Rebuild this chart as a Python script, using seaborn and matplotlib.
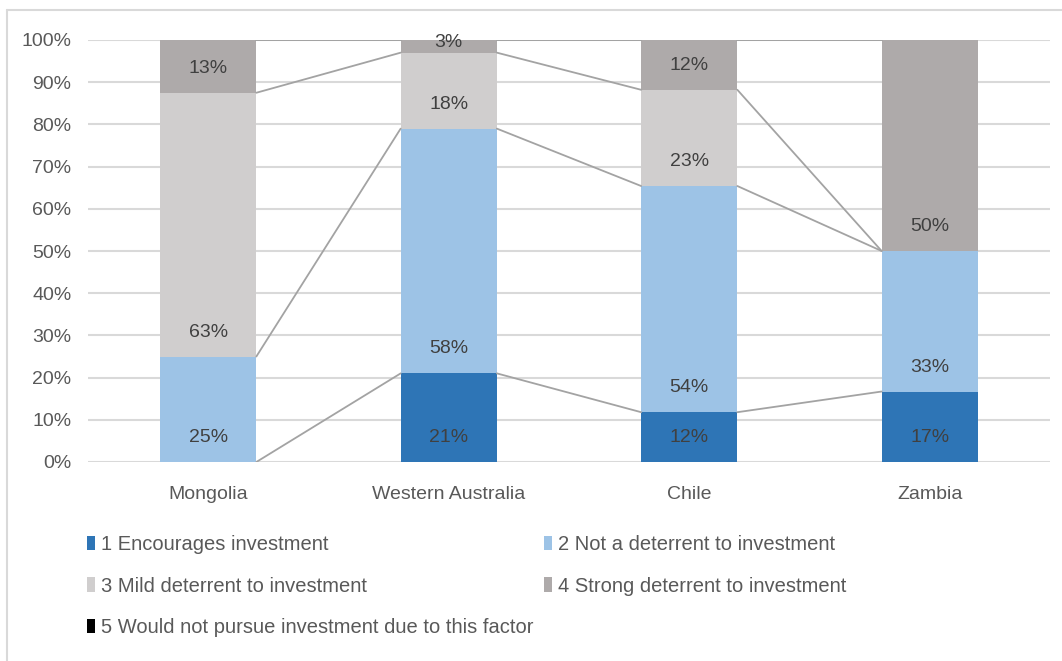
import numpy as np
import matplotlib
matplotlib.use("Agg")
import matplotlib.pyplot as plt
from matplotlib.patches import Patch
from matplotlib.lines import Line2D
import seaborn as sns

# share of responses (%) per jurisdiction
categories = ["Mongolia", "Western Australia", "Chile", "Zambia"]
encourages = [0, 21, 11.8, 16.7]
not_deterrent = [25, 58, 53.6, 33.3]
mild_deterrent = [62.5, 18, 22.8, 0]
strong_deterrent = [12.5, 3, 11.8, 50]
would_not_pursue = [0, 0, 0, 0]

series_names = ["1 Encourages investment",
                "2 Not a deterrent to investment",
                "3 Mild deterrent to investment",
                "4 Strong deterrent to investment",
                "5 Would not pursue investment due to this factor"]
series_colors = ["#2E75B6", "#9DC3E6", "#D0CECE", "#AEAAAA", "#000000"]

sns.set_style("white")
plt.rcParams["font.family"] = ["Liberation Sans", "DejaVu Sans"]

values = np.array([encourages, not_deterrent, mild_deterrent,
                   strong_deterrent, would_not_pursue])
tops = values.cumsum(axis=0)
bases = tops - values

fig = plt.figure(figsize=(10.62, 6.61), dpi=100)
ax = fig.add_axes([88 / 1062, 1 - 462 / 661, 962 / 1062, 422 / 661])

# stacked bars: draw cumulative totals from the top series down
for k in range(3, -1, -1):
    sns.barplot(x=categories, y=tops[k], color=series_colors[k], saturation=1,
                width=0.4, linewidth=0, errorbar=None, ax=ax, zorder=2)

# series lines joining segment tops between neighbouring bars
half = 0.2
for k in range(5):
    for i in range(len(categories) - 1):
        ax.plot([i + half, i + 1 - half], [tops[k][i], tops[k][i + 1]],
                color="#A3A3A3", lw=1.3, zorder=3)

# data labels near the base of each segment
for k in range(4):
    for i in range(len(categories)):
        v = values[k][i]
        if v > 0:
            y = bases[k][i] + min(5.8, v - 0.6)
            ax.text(i, y, f"{int(v + 0.5)}%", ha="center", va="center",
                    fontsize=14, color="#404040", zorder=4)

ax.set_xlim(-0.5, 3.5)
ax.set_ylim(0, 100)
ax.set_yticks(range(0, 101, 10))
ax.set_yticklabels([f"{t}%" for t in range(0, 101, 10)])
ax.set_xlabel("")
ax.set_ylabel("")
ax.yaxis.grid(True, color="#D9D9D9", lw=1.5)
ax.set_axisbelow(True)
for s in ax.spines.values():
    s.set_visible(False)
ax.tick_params(axis="both", length=0, labelsize=14, colors="#595959")
ax.tick_params(axis="y", pad=12)
ax.tick_params(axis="x", pad=17)

# legend laid out row by row in two columns
handles = [Patch(facecolor=c, edgecolor="none") for c in series_colors]
leg_kw = dict(loc="upper left", frameon=False, fontsize=14.5, handlelength=0.4,
              handleheight=0.7, handletextpad=0.3, labelspacing=1.12,
              borderpad=0, borderaxespad=0, labelcolor="#595959")
leg1 = fig.legend([handles[0], handles[2], handles[4]],
                  [series_names[0], series_names[2], series_names[4]],
                  bbox_to_anchor=(87 / 1062, 1 - 535 / 661), **leg_kw)
leg2 = fig.legend([handles[1], handles[3]],
                  [series_names[1], series_names[3]],
                  bbox_to_anchor=(544 / 1062, 1 - 535 / 661), **leg_kw)

# chart frame (top and left edges visible)
fig.add_artist(Line2D([7 / 1062, 1], [1 - 10 / 661] * 2,
                      transform=fig.transFigure, color="#D9D9D9", lw=1.5))
fig.add_artist(Line2D([7 / 1062] * 2, [0, 1 - 10 / 661],
                      transform=fig.transFigure, color="#D9D9D9", lw=1.5))

fig.savefig("out.png", dpi=100)
